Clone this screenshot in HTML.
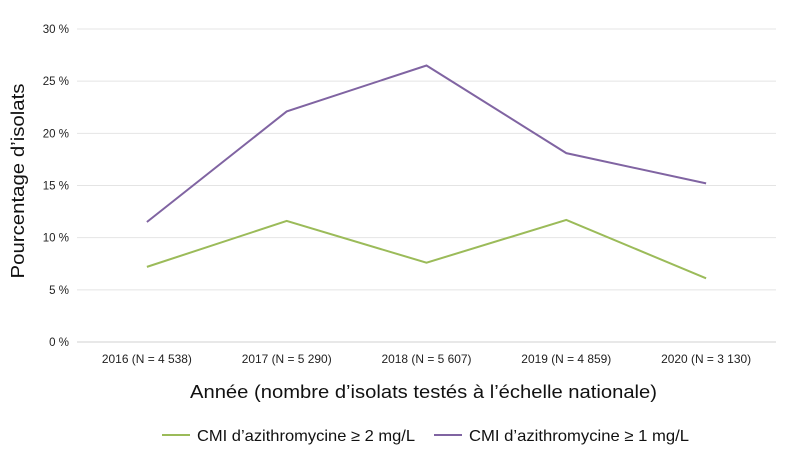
<!DOCTYPE html>
<html><head><meta charset="utf-8"><style>
body{margin:0;background:#fff;}
svg{font-family:"Liberation Sans",sans-serif;}
</style></head><body>
<svg id="chart" width="792" height="457"></svg>
<script>
const categories=["2016 (N = 4 538)","2017 (N = 5 290)","2018 (N = 5 607)","2019 (N = 4 859)","2020 (N = 3 130)"];
const seriesGreen=[7.2,11.6,7.6,11.7,6.1];
const seriesPurple=[11.5,22.1,26.5,18.1,15.2];
const yTicks=[0,5,10,15,20,25,30];
const yTickLabels=["0 %","5 %","10 %","15 %","20 %","25 %","30 %"];
const NS="http://www.w3.org/2000/svg";
const svg=document.getElementById('chart');
const x0=77,x1=776,yTop=29,yBot=342;
function xs(i){return x0+(x1-x0)*(i+0.5)/categories.length;}
function ys(v){return yBot-(yBot-yTop)*v/30;}
function mk(t,a,txt){const e=document.createElementNS(NS,t);for(const k in a)e.setAttribute(k,a[k]);if(txt!=null)e.textContent=txt;svg.appendChild(e);return e;}
yTicks.forEach((v,i)=>{
 const g=mk('line',{x1:x0,x2:x1,y1:ys(v),y2:ys(v),stroke:i===0?'#d0d0d0':'#e4e4e4','stroke-width':1});
 
 
 const t=mk('text',{x:69,y:ys(v)+4,'text-anchor':'end','font-size':11.5,fill:'#222'},yTickLabels[i]);
 
 
});
categories.forEach((c,i)=>{
 const t=mk('text',{x:xs(i),y:363,'text-anchor':'middle','font-size':12,textLength:90,lengthAdjust:'spacingAndGlyphs',fill:'#222'},c);
 
 
});
function line(data,color,name){
 const p=mk('polyline',{points:data.map((v,i)=>xs(i)+','+ys(v)).join(' '),fill:'none',stroke:color,'stroke-width':2});
 
 
}
line(seriesGreen,'#9bbb59','series-green-line');
line(seriesPurple,'#8064a2','series-purple-line');
const yt=mk('text',{x:0,y:0,transform:'translate(24,181) rotate(-90)','text-anchor':'middle','font-size':18,textLength:195,lengthAdjust:'spacingAndGlyphs',fill:'#111'},"Pourcentage d’isolats");


const xt=mk('text',{x:190,y:398,'font-size':18,textLength:467,lengthAdjust:'spacingAndGlyphs',fill:'#111'},"Année (nombre d’isolats testés à l’échelle nationale)");


const l1=mk('line',{x1:162,x2:190,y1:435,y2:435,stroke:'#9bbb59','stroke-width':2});


const lt1=mk('text',{x:197,y:441,'font-size':16,textLength:218,lengthAdjust:'spacingAndGlyphs',fill:'#111'},"CMI d’azithromycine ≥ 2 mg/L");


const l2=mk('line',{x1:434,x2:462,y1:435,y2:435,stroke:'#8064a2','stroke-width':2});


const lt2=mk('text',{x:469,y:441,'font-size':16,textLength:220,lengthAdjust:'spacingAndGlyphs',fill:'#111'},"CMI d’azithromycine ≥ 1 mg/L");


</script>
</body></html>
